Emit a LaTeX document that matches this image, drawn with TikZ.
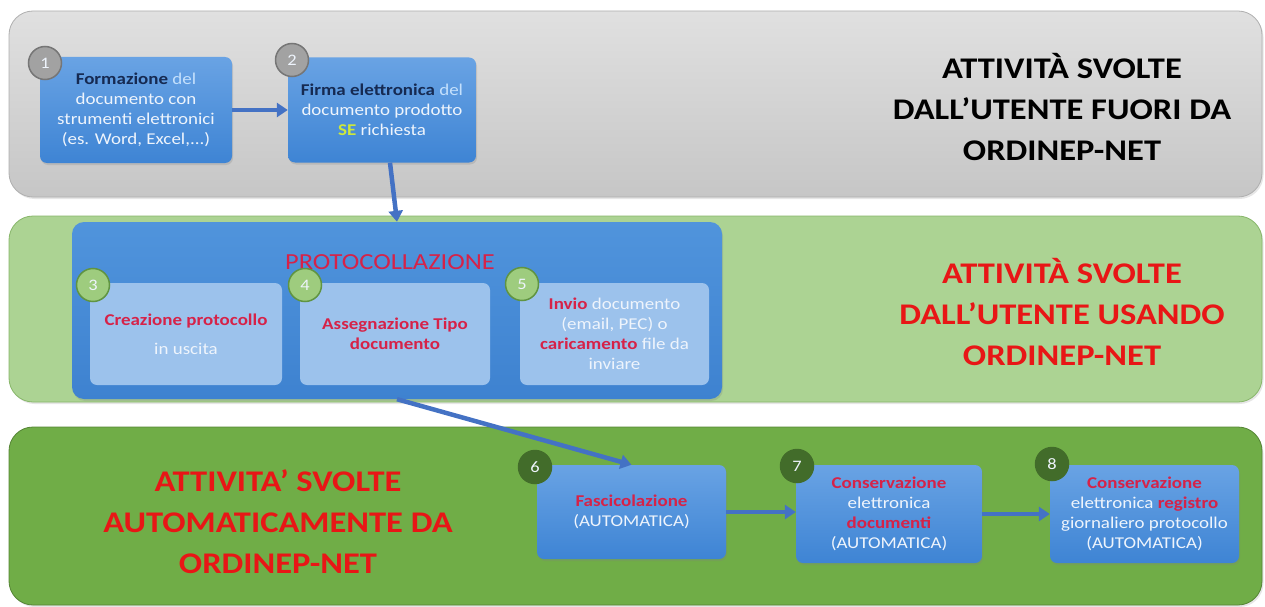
\documentclass[tikz,border=0pt]{standalone}
\usepackage{fontspec}
\setmainfont{Carlito}[FakeStretch=1.15]
\usetikzlibrary{arrows.meta,shadows}
\definecolor{greytop}{RGB}{224,224,224}
\definecolor{greybot}{RGB}{198,198,198}
\definecolor{greyline}{RGB}{175,175,175}
\definecolor{lgreen}{RGB}{172,211,147}
\definecolor{lgline}{RGB}{135,182,105}
\definecolor{dgreen}{RGB}{112,173,71}
\definecolor{dgline}{RGB}{84,132,52}
\definecolor{bxtop}{RGB}{105,163,228}
\definecolor{bxbot}{RGB}{62,132,212}
\definecolor{prtop}{RGB}{80,148,220}
\definecolor{prbot}{RGB}{62,130,208}
\definecolor{subblue}{RGB}{156,194,236}
\definecolor{arrblue}{RGB}{68,114,196}
\definecolor{navy}{RGB}{22,42,82}
\definecolor{crim}{RGB}{214,34,72}
\definecolor{hred}{RGB}{232,22,22}
\definecolor{txt}{RGB}{238,244,252}
\definecolor{lblue}{RGB}{196,224,252}
\definecolor{segreen}{RGB}{205,232,60}
\definecolor{greyc}{RGB}{162,162,162}
\definecolor{greycd}{RGB}{118,118,118}
\definecolor{lgc}{RGB}{158,204,126}
\definecolor{lgcd}{RGB}{96,148,66}
\definecolor{dgc}{RGB}{66,108,42}
\newcommand{\dk}[1]{\textbf{\color{navy}#1}}
\newcommand{\rd}[1]{\textbf{\color{crim}#1}}
\begin{document}
\begin{tikzpicture}[x=1pt,y=-1pt,
  every node/.style={font=\fontsize{16.5}{20}\selectfont,text=txt,align=center},
  band/.style={rounded corners=24pt,line width=0.8pt,drop shadow={opacity=0.2,shadow xshift=1.5pt,shadow yshift=-2pt}},
  box/.style={rounded corners=7pt,top color=bxtop,bottom color=bxbot,inner sep=2pt,drop shadow={opacity=0.25,shadow xshift=1pt,shadow yshift=-2pt}},
  sub/.style={rounded corners=7pt,fill=subblue,inner sep=2pt},
  num/.style={circle,minimum size=33pt,inner sep=0pt,line width=1.5pt,font=\fontsize{16}{16}\selectfont},
  heading/.style={font=\bfseries\fontsize{30}{41}\selectfont},
  arr/.style={arrblue,line width=4.5pt,-{Triangle[length=11pt,width=14pt]}}]
\useasboundingbox (0,0) rectangle (1265,607);
\draw[band,draw=greyline,top color=greytop,bottom color=greybot] (9,11) rectangle (1262,197);
\draw[band,draw=lgline,fill=lgreen] (9,216) rectangle (1262,402);
\draw[band,draw=dgline,fill=dgreen] (9,427) rectangle (1262,605);
\node[heading,text=black] (h1) at (1062,107) {ATTIVITÀ SVOLTE\\DALL’UTENTE FUORI DA\\ORDINEP-NET};
\node[heading,text=hred] (h2) at (1062,312) {ATTIVITÀ SVOLTE\\DALL’UTENTE USANDO\\ORDINEP-NET};
\node[heading,text=hred] (h3) at (278,522) {ATTIVITA’ SVOLTE\\AUTOMATICAMENTE DA\\ORDINEP-NET};
\node[box,minimum width=192,minimum height=106] (b1) at (136,110) {\dk{Formazione} {\color{lblue}del}\\documento con\\strumenti elettronici\\(es. Word, Excel,...)};
\node[box,minimum width=188,minimum height=105] (b2) at (382,110) {\dk{Firma elettronica} {\color{lblue}del}\\documento prodotto\\\textbf{\color{segreen}SE} richiesta};
\node[box,rounded corners=12pt,top color=prtop,bottom color=prbot,minimum width=650,minimum height=177] (proto) at (397,310.5) {};
\node[font=\fontsize{23}{23}\selectfont,text=crim] (ptitle) at (390,262) {PROTOCOLLAZIONE};
\node[sub,minimum width=192,minimum height=102] (b3) at (186,334) {\rd{Creazione protocollo}\\[9pt]in uscita};
\node[sub,minimum width=190,minimum height=102] (b4) at (395,334) {\rd{Assegnazione Tipo}\\\rd{documento}};
\node[sub,minimum width=189,minimum height=102] (b5) at (614.5,334) {\rd{Invio} documento\\(email, PEC) o\\\rd{caricamento} file da\\inviare};
\node[box,minimum width=189,minimum height=94] (b6) at (631.5,512) {\rd{Fascicolazione}\\(AUTOMATICA)};
\node[box,minimum width=186,minimum height=98] (b7) at (889,514) {\rd{Conservazione}\\elettronica\\\rd{documenti}\\(AUTOMATICA)};
\node[box,minimum width=189,minimum height=98] (b8) at (1144.5,514) {\rd{Conservazione}\\elettronica \rd{registro}\\giornaliero protocollo\\(AUTOMATICA)};
\node[num,fill=greyc,draw=greycd] (n1) at (45,63) {1};
\node[num,fill=greyc,draw=greycd] (n2) at (292,60) {2};
\node[num,fill=lgc,draw=lgcd] (n3) at (93,285) {3};
\node[num,fill=lgc,draw=lgcd] (n4) at (305,285) {4};
\node[num,fill=lgc,draw=lgcd] (n5) at (522,284) {5};
\node[num,fill=dgc,draw=dgc] (n6) at (535,467) {6};
\node[num,fill=dgc,draw=dgc] (n7) at (797,466) {7};
\node[num,fill=dgc,draw=dgc] (n8) at (1052,464) {8};
\draw[arr] (b1) -- (b2);
\draw[arr] ([xshift=8pt]b2.south) -- (proto.north);
\draw[arr] (proto.south) -- (b6.north);
\draw[arr] (b6.east) -- (b6.east -| b7.west);
\draw[arr] (b7.east) -- (b7.east -| b8.west);
\end{tikzpicture}
\end{document}
